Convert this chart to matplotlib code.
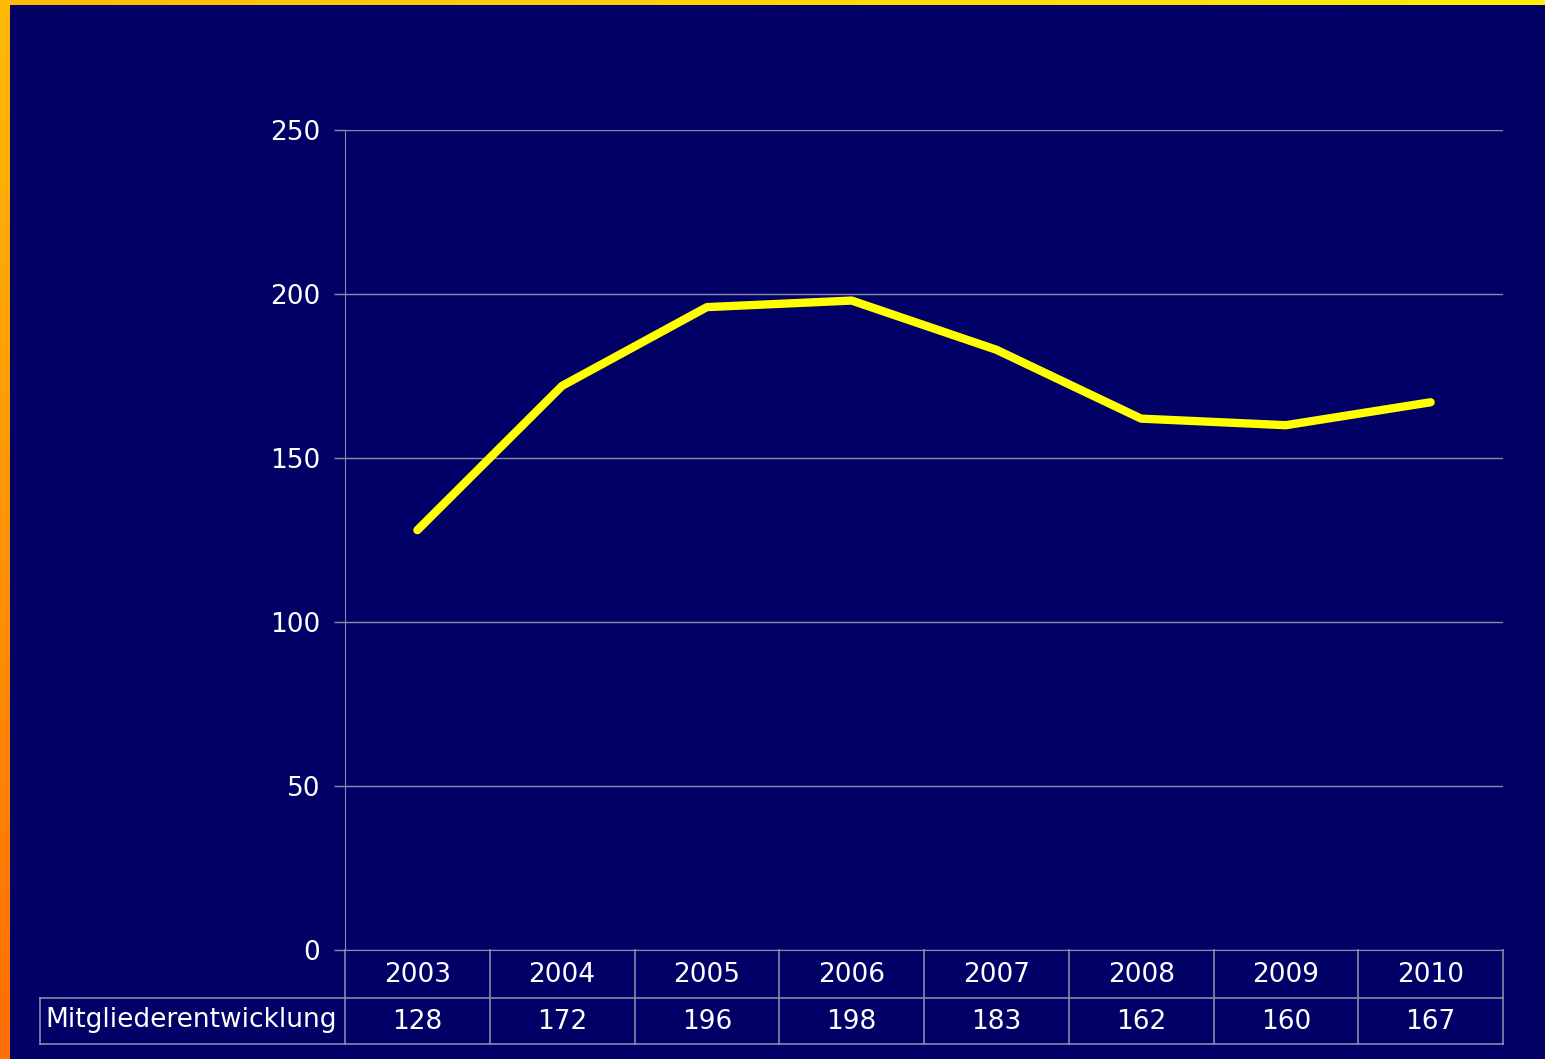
import numpy as np
import matplotlib
matplotlib.use("Agg")
import matplotlib.pyplot as plt
from matplotlib.patches import Rectangle
from matplotlib.lines import Line2D
from matplotlib.transforms import blended_transform_factory

years = ["2003", "2004", "2005", "2006", "2007", "2008", "2009", "2010"]
members = [128, 172, 196, 198, 183, 162, 160, 167]
series_name = "Mitgliederentwicklung"
yticks = [0, 50, 100, 150, 200, 250]

W, H = 1545, 1059
NAVY = "#000066"
GRID = "#8a8aa8"
FS = 19

fig = plt.figure(figsize=(W / 100, H / 100), dpi=100)

# gradient frame (yellow top, orange left)
bg = fig.add_axes([0, 0, 1, 1])
xf = np.linspace(0, 1, 200)[None, :]
yf = np.linspace(0, 1, 200)[:, None]
g = np.clip(0.73 + 0.21 * xf - 0.30 * yf, 0, 1)
img = np.dstack([np.ones_like(g), g, np.zeros_like(g) + 0.03])
bg.imshow(img, aspect="auto", extent=[0, 1, 0, 1], origin="upper")
bg.add_patch(Rectangle((10 / W, 0), 1, 1 - 5 / H, color=NAVY, lw=0))
bg.set_xlim(0, 1)
bg.set_ylim(0, 1)
bg.axis("off")

# main plot
x0, x1, ytop, ybot = 345, 1503, 130, 950
ax = fig.add_axes([x0 / W, 1 - ybot / H, (x1 - x0) / W, (ybot - ytop) / H])
ax.set_facecolor("none")
ax.set_xlim(-0.5, len(years) - 0.5)
ax.set_ylim(0, 250)
ax.set_yticks(yticks)
ax.set_xticks([])
ax.grid(axis="y", color=GRID, lw=1)
ax.tick_params(axis="y", colors=GRID, labelcolor="white", labelsize=FS, length=8, width=1, pad=10)
for s in ["top", "right"]:
    ax.spines[s].set_visible(False)
ax.spines["left"].set_color(GRID)
ax.spines["bottom"].set_color(GRID)

xs = np.arange(len(years))
ax.plot(xs, members, color="#ffff00", lw=6, solid_capstyle="round", solid_joinstyle="round")

# data table under the axis
tr = blended_transform_factory(ax.transData, fig.transFigure)
def fy(py):
    return 1 - py / H
r1, r2, r3 = 950, 998, 1044
for y in (r2, r3):
    fig.add_artist(Line2D([40 / W, x1 / W], [fy(y), fy(y)], color=GRID, lw=1.2, transform=fig.transFigure))
for i in range(len(years) + 1):
    fig.add_artist(Line2D([i - 0.5, i - 0.5], [fy(r1), fy(r3)], color=GRID, lw=1.2, transform=tr))
fig.add_artist(Line2D([40 / W, 40 / W], [fy(r2), fy(r3)], color=GRID, lw=1.2, transform=fig.transFigure))

for i, (yr, v) in enumerate(zip(years, members)):
    fig.text(i, fy((r1 + r2) / 2 + 1), yr, transform=tr, ha="center", va="center", color="white", fontsize=FS)
    fig.text(i, fy((r2 + r3) / 2 + 1), str(v), transform=tr, ha="center", va="center", color="white", fontsize=FS)
fig.text(45 / W, fy((r2 + r3) / 2 - 1), series_name, ha="left", va="center", color="white", fontsize=FS)

fig.savefig("out.png", dpi=100)
